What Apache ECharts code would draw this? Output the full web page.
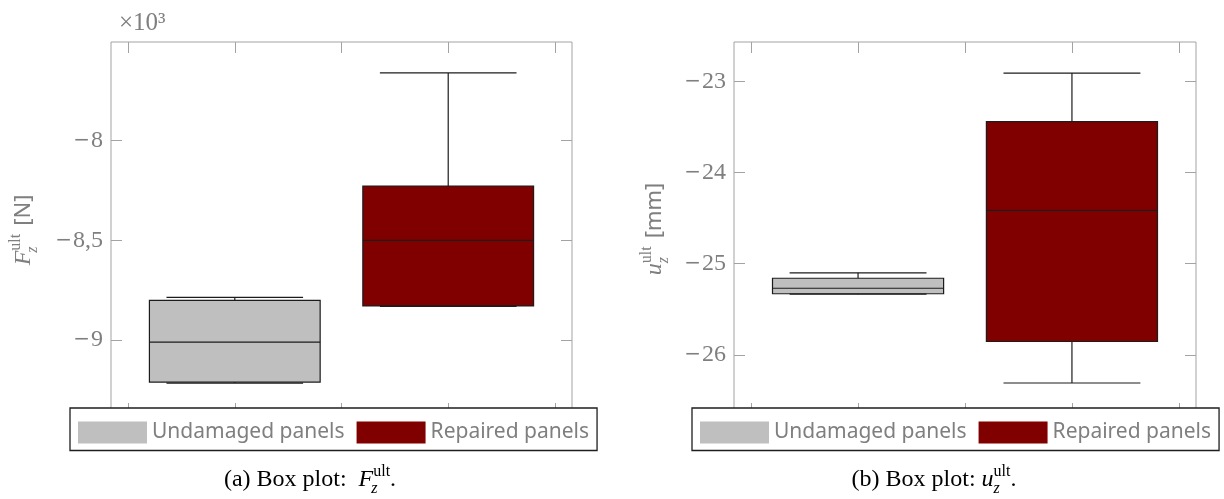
<!DOCTYPE html>
<html>
<head>
<meta charset="utf-8">
<script src="https://cdn.jsdelivr.net/npm/echarts@6/dist/echarts.min.js"></script>
<style>
  html, body { margin: 0; padding: 0; background: #ffffff; }
  #chart { width: 1224px; height: 499px; }
</style>
</head>
<body>
<div id="chart"></div>
<script>
// Categories and their positions on the (unlabelled) x axis
const categories = ['Undamaged panels', 'Repaired panels'];
const categoryPositions = [1, 2];

// Five-number summaries: [lower whisker, Q1, median, Q3, upper whisker]
// Ultimate force F_z^ult, in units of 10^3 N
const forceUndamaged = [-9.215, -9.21, -9.01, -8.80, -8.785];
const forceRepaired  = [-8.83, -8.828, -8.50, -8.227, -7.66];
// Ultimate displacement u_z^ult, in mm
const dispUndamaged  = [-25.335, -25.33, -25.27, -25.16, -25.10];
const dispRepaired   = [-26.31, -25.854, -24.416, -23.44, -22.908];

// Tick values and their labels
const forceTicks = [-9, -8.5, -8];
const forceTickLabels = ['−9', '−8,5', '−8'];
const dispTicks = [-26, -25, -24, -23];
const dispTickLabels = ['−26', '−25', '−24', '−23'];
const xTicks = [0.5, 1, 1.5, 2, 2.5];

const boxColors = ['#bfbfbf', '#800000'];

const SERIF = "'Liberation Serif', 'Times New Roman', serif";
const SANS = "'Noto Sans', 'DejaVu Sans', sans-serif";
const FRAME = '#a3a3a3';
const LABEL = '#7f7f7f';

const chart = echarts.init(document.getElementById('chart'), null, { renderer: 'canvas' });

// Tick label: wide math minus sign followed by the digits
function labelFor(ticks, labels) {
  return function (v) {
    for (let i = 0; i < ticks.length; i++) {
      if (Math.abs(ticks[i] - v) < 1e-9) {
        const t = labels[i];
        return t.charAt(0) === '−' ? '{m|−}{d|' + t.slice(1) + '}' : '{d|' + t + '}';
      }
    }
    return '';
  };
}

function xAxisDef(gridIndex, position) {
  return {
    type: 'value', gridIndex, position,
    min: 0.42, max: 2.58,
    axisLine: { show: false },
    splitLine: { show: false },
    axisTick: { show: true, inside: true, length: 11, customValues: xTicks, lineStyle: { color: FRAME, width: 1 } },
    axisLabel: { show: false }
  };
}

function yAxisDef(gridIndex, position, min, max, ticks, labels, showLabels) {
  return {
    type: 'value', gridIndex, position, min, max,
    axisLine: { show: false },
    splitLine: { show: false },
    axisTick: { show: true, inside: true, length: 11, customValues: ticks, lineStyle: { color: FRAME, width: 1 } },
    axisLabel: {
      show: showLabels, customValues: ticks, margin: 8,
      formatter: labelFor(ticks, labels),
      fontFamily: SERIF, fontSize: 24, color: LABEL,
      rich: {
        m: { fontFamily: "'DejaVu Serif', serif", fontSize: 20, color: LABEL, padding: [0, 1, 0, 0] },
        d: { fontFamily: SERIF, fontSize: 24, color: LABEL }
      }
    }
  };
}

// Box-and-whisker glyph drawn through the axis scales
function renderBox(params, api) {
  const x = api.value(0);
  const lo = api.value(1), q1 = api.value(2), md = api.value(3), q3 = api.value(4), hi = api.value(5);
  const boxHalf = 0.4, capHalf = 0.32;
  const c = (a, b) => api.coord([a, b]);
  const color = api.visual('color');
  const stroke = { stroke: '#1c1c1c', lineWidth: 1.2 };
  const tl = c(x - boxHalf, q3), br = c(x + boxHalf, q1);
  const line = (p, q) => ({ type: 'line', shape: { x1: p[0], y1: p[1], x2: q[0], y2: q[1] }, style: stroke });
  return {
    type: 'group',
    children: [
      line(c(x, lo), c(x, q1)),
      line(c(x, q3), c(x, hi)),
      { type: 'rect', shape: { x: tl[0], y: tl[1], width: br[0] - tl[0], height: br[1] - tl[1] },
        style: { fill: color, stroke: '#1c1c1c', lineWidth: 1.2 } },
      line(c(x - boxHalf, md), c(x + boxHalf, md)),
      line(c(x - capHalf, lo), c(x + capHalf, lo)),
      line(c(x - capHalf, hi), c(x + capHalf, hi))
    ]
  };
}

function boxSeries(name, color, axisIndex, pos, stats) {
  return {
    type: 'custom', name,
    xAxisIndex: axisIndex, yAxisIndex: axisIndex,
    itemStyle: { color },
    data: [[pos].concat(stats)],
    encode: { x: 0, y: [1, 2, 3, 4, 5] },
    renderItem: renderBox,
    silent: true
  };
}

// Text measuring for the math-style labels
const measureCtx = document.createElement('canvas').getContext('2d');
function textWidth(str, f) {
  measureCtx.font = `${f.fontStyle || 'normal'} ${f.fontSize}px ${f.fontFamily}`;
  return measureCtx.measureText(str).width;
}

// Label of the form: prefix + Base_sub^sup + suffix, laid along one line
function mathLabel(opt) {
  const s = opt.size;
  const small = Math.round(s * 0.68);
  const fPrefix = opt.prefixFont || { fontSize: s, fontFamily: SERIF };
  const fBase = { fontSize: s, fontFamily: SERIF, fontStyle: 'italic' };
  const fSup = { fontSize: small, fontFamily: SERIF };
  const fSub = { fontSize: small, fontFamily: SERIF, fontStyle: 'italic' };
  const fSuffix = opt.suffixFont || { fontSize: s, fontFamily: SERIF };
  const parts = [];
  let cx = 0;
  const push = (text, f, x, dy) => parts.push({ text, f, x, dy });
  if (opt.prefix) { push(opt.prefix, fPrefix, cx, 0); cx += textWidth(opt.prefix, fPrefix); }
  push(opt.base, fBase, cx, 0); cx += textWidth(opt.base, fBase) + (opt.baseGap || 0);
  const supW = textWidth(opt.sup, fSup), subW = textWidth(opt.sub, fSub);
  const shift = opt.subShift || 0;
  push(opt.sup, fSup, cx, -0.36 * s);
  push(opt.sub, fSub, cx - shift, 0.36 * s);
  cx += Math.max(supW, subW - shift);
  if (opt.suffix) { cx += opt.suffixGap || 0; push(opt.suffix, fSuffix, cx, (opt.suffixDy || 0)); cx += textWidth(opt.suffix, fSuffix); }
  const start = -cx / 2;
  return {
    type: 'group', x: opt.x, y: opt.y, rotation: opt.rotation || 0, silent: true,
    children: parts.map(p => ({
      type: 'text', z: 10,
      style: {
        text: p.text, x: start + p.x, y: p.dy,
        fontSize: p.f.fontSize, fontFamily: p.f.fontFamily, fontStyle: p.f.fontStyle || 'normal',
        fill: opt.color,
        align: 'left', verticalAlign: 'middle', textAlign: 'left', textVerticalAlign: 'middle'
      }
    }))
  };
}

function legendDef(left) {
  return {
    data: categories, left, top: 408, orient: 'horizontal',
    icon: 'rect', itemWidth: 69, itemHeight: 22, itemGap: 12,
    padding: [13.5, 8, 7, 8],
    backgroundColor: '#ffffff', borderColor: '#1e1e1e', borderWidth: 1.3, borderRadius: 0,
    selectedMode: false, z: 6,
    itemStyle: { borderWidth: 0 },
    textStyle: { fontFamily: SANS, fontSize: 21, color: LABEL, padding: [0, 0, 0, 0] }
  };
}

const option = {
  backgroundColor: '#ffffff',
  animation: false,
  grid: [
    { left: 111, top: 42, width: 461, height: 372, show: true, borderColor: FRAME, borderWidth: 1, backgroundColor: 'transparent' },
    { left: 734, top: 42, width: 462, height: 372, show: true, borderColor: FRAME, borderWidth: 1, backgroundColor: 'transparent' }
  ],
  xAxis: [xAxisDef(0, 'bottom'), xAxisDef(0, 'top'), xAxisDef(1, 'bottom'), xAxisDef(1, 'top')],
  yAxis: [
    yAxisDef(0, 'left', -9.37, -7.505, forceTicks, forceTickLabels, true),
    yAxisDef(0, 'right', -9.37, -7.505, forceTicks, forceTickLabels, false),
    yAxisDef(1, 'left', -26.65, -22.567, dispTicks, dispTickLabels, true),
    yAxisDef(1, 'right', -26.65, -22.567, dispTicks, dispTickLabels, false)
  ],
  legend: [legendDef(70), legendDef(692)],
  series: [
    boxSeries(categories[0], boxColors[0], 0, categoryPositions[0], forceUndamaged),
    boxSeries(categories[1], boxColors[1], 0, categoryPositions[1], forceRepaired),
    boxSeries(categories[0], boxColors[0], 2, categoryPositions[0], dispUndamaged),
    boxSeries(categories[1], boxColors[1], 2, categoryPositions[1], dispRepaired)
  ],
  graphic: [
    // Scale factor of the force axis
    { type: 'text', x: 119, y: 23, silent: true,
      style: { text: '×10³', fontSize: 25, fontFamily: SERIF, fill: LABEL,
               align: 'left', verticalAlign: 'middle', textAlign: 'left', textVerticalAlign: 'middle' } },
    // Axis titles
    mathLabel({ x: 24, y: 230, rotation: Math.PI / 2, base: 'F', sup: 'ult', sub: 'z', subShift: 2,
                suffix: '[N]', suffixGap: 8, suffixFont: { fontSize: 22, fontFamily: SANS }, size: 24, color: LABEL }),
    mathLabel({ x: 655, y: 229, rotation: Math.PI / 2, base: 'u', sup: 'ult', sub: 'z',
                suffix: '[mm]', suffixGap: 8, suffixFont: { fontSize: 22, fontFamily: SANS }, size: 24, color: LABEL }),
    // Sub-figure captions
    mathLabel({ x: 310, y: 480, prefix: '(a) Box plot:  ', base: 'F', sup: 'ult', sub: 'z', subShift: 2,
                suffix: '.', size: 24, color: '#000000' }),
    mathLabel({ x: 934, y: 480, prefix: '(b) Box plot: ', base: 'u', sup: 'ult', sub: 'z',
                suffix: '.', size: 24, color: '#000000' })
  ]
};

chart.setOption(option);
</script>
</body>
</html>
